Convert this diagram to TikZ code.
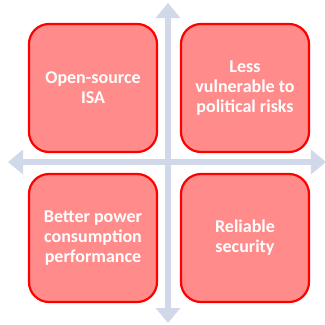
\documentclass[tikz,border=0pt]{standalone}
\usepackage{fontspec}
\setmainfont{Carlito}
\usetikzlibrary{arrows.meta}
\definecolor{RedA}{HTML}{FF0000}
\definecolor{RedB}{HTML}{FF8B8B}
\definecolor{AxisA}{HTML}{D0D8EA}
\tikzset{
  quad/.style={draw=RedA, fill=RedB, line width=2.2pt, rounded corners=20pt,
               minimum width=128pt, minimum height=128pt, align=center,
               text=white, font=\fontsize{18}{20}\selectfont\bfseries},
  axis/.style={draw=AxisA, line width=6pt,
               {Triangle[width=24pt,length=15pt]}-{Triangle[width=24pt,length=15pt]}},
}

\begin{document}
\begin{tikzpicture}[x=1pt, y=-1pt]
  \useasboundingbox (0,0) rectangle (325,325);

  % axes
  \coordinate (top)    at (168,3);
  \coordinate (bottom) at (168,323);
  \coordinate (left)   at (8,162);
  \coordinate (right)  at (326,162);
  \draw[axis] (bottom) -- (top);
  \draw[axis] (left) -- (right);

  % quadrants
  \node[quad] (isa)    at (93,88)   {Open-source\\ISA};
  \node[quad] (risk)   at (245,88)  {Less\\vulnerable to\\political risks};
  \node[quad] (power)  at (93,238)  {Better power\\consumption\\performance};
  \node[quad] (secure) at (245,238) {Reliable\\security};
\end{tikzpicture}
\end{document}
